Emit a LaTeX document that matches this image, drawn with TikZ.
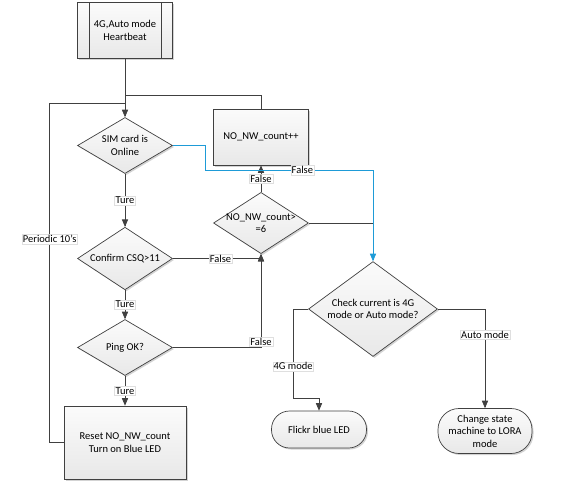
\documentclass[tikz,border=0pt]{standalone}
\usepackage{fontspec}
\setmainfont{Carlito}
\usepackage{tikz}
\usetikzlibrary{arrows,shapes.geometric,shadows,positioning}

\definecolor{linegray}{RGB}{64,64,64}
\definecolor{flowblue}{RGB}{30,155,215}

\tikzset{
  boxshade/.style={top color=gray!3,bottom color=gray!18,draw=linegray,
    drop shadow={opacity=0.35,shadow xshift=1.5pt,shadow yshift=-1.5pt}},
  process/.style={rectangle,boxshade,align=center,minimum width=95pt,minimum height=56pt},
  decision/.style={diamond,boxshade,align=center,inner sep=-4pt,minimum width=95pt,minimum height=56pt},
  terminal/.style={rectangle,rounded corners=18pt,boxshade,align=center,minimum width=95pt},
  lbl/.style={fill=white,draw=gray!25,text=black,inner sep=1pt,line width=0.3pt}
}

\begin{document}
\begin{tikzpicture}[x=1pt,y=-1pt,>=triangle 45,font=\fontsize{10.5}{12.5}\selectfont,
  line width=0.7pt,draw=linegray,node distance=4cm]
\useasboundingbox (0,0) rectangle (566,485);

\node[process] (head) at (125,30.5) {4G,Auto mode\\Heartbeat};
\draw[linegray] ([xshift=12pt]head.north west) -- ([xshift=12pt]head.south west)
  ([xshift=-12pt]head.north east) -- ([xshift=-12pt]head.south east);

\node[decision] (sim)   [below of=head,node distance=115pt] {SIM card is\\Online};
\node[decision] (csq)   [below of=sim,node distance=113pt]  {Confirm CSQ>11};
\node[decision] (ping)  [below of=csq,node distance=89pt]   {Ping OK?};
\node[process,minimum width=122pt,minimum height=73pt] (reset) [below of=ping,node distance=95pt]
  {Reset NO\_NW\_count\\Turn on Blue LED};

\node[decision,inner sep=-7pt] (nwchk) at (261,223) {NO\_NW\_count>\\=6};
\node[process] (nwcnt) [above of=nwchk,node distance=86pt] {NO\_NW\_count++};

\node[decision,minimum width=129pt,minimum height=83pt] (check) at (373,309)
  {Check current is 4G\\mode or Auto mode?};
\node[terminal,minimum height=37pt] (flickr) at (319,429.5) {Flickr blue LED};
\node[terminal,minimum width=94pt,minimum height=45pt,rounded corners=21pt] (lora) at (485,431)
  {Change state\\machine to LORA\\mode};

\coordinate (jA) at ([yshift=-36pt]head.south);
\coordinate (jB) at ([yshift=-44.5pt]head.south);
\coordinate (jC) at ([yshift=91pt]check.north);

\draw[->] (head) -- (sim);
\draw (nwcnt.north) |- (jA);
\draw (reset.west) -- ++(-14pt,0) |- node[lbl,pos=0.3]{Periodic 10's} (jB);

\draw[->] (sim) -- node[lbl]{Ture} (csq);
\draw[->] (csq) -- node[lbl]{Ture} (ping);
\draw[->] (ping) -- node[lbl]{Ture} (reset);

\draw[->] (csq.east) -| node[lbl,pos=0.27]{False} (nwchk.south);
\draw[->] (ping.east) -| node[lbl,pos=0.53]{False} (nwchk.south);
\draw[->] (nwchk) -- node[lbl]{False} (nwcnt);

\draw[->,flowblue] (sim.east) -- ++(32pt,0) |- node[lbl,pos=0.79]{False} (jC) -- (check.north);
\draw (nwchk.east) -- (jC |- nwchk.east);

\draw[->] (check.west) -- ++(-15pt,0) |- node[lbl,pos=0.32]{4G mode} ([yshift=12pt]flickr.north) -- (flickr.north);
\draw[->] (check.east) -| node[lbl,pos=0.63]{Auto mode} (lora.north);

\end{tikzpicture}
\end{document}
